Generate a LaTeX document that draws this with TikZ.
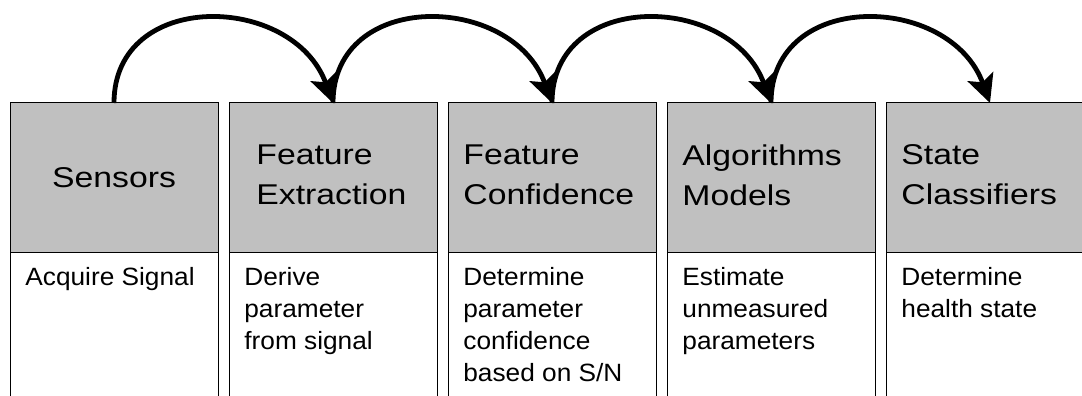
\documentclass[tikz,border=0pt]{standalone}
\usepackage{fontspec}
\setmainfont{Liberation Sans}[FakeStretch=1.05]
\newfontfamily\headfont{Liberation Sans}[FakeStretch=1.18]
\usetikzlibrary{positioning,arrows.meta}
\definecolor{boxgray}{RGB}{192,192,192}

\begin{document}
\begin{tikzpicture}[
  head/.style={draw=black,fill=boxgray,line width=0.5pt,minimum width=104pt,minimum height=75pt,inner sep=0pt,outer sep=0pt},
  body/.style={minimum width=104pt,minimum height=71.5pt,inner sep=0pt,outer sep=0pt},
  headtext/.style={inner sep=0pt,align=left,font=\headfont\fontsize{14.3}{20}\selectfont},
  bodytext/.style={inner sep=0pt,align=left,font=\fontsize{12.5}{16}\selectfont},
  flow/.style={line width=2.4pt,-{Stealth[length=14pt,width=13.5pt,inset=3pt]}}]
\useasboundingbox (0,0) rectangle (541pt,198pt);
% header boxes
\node[head,anchor=north west] (hd1) at (5pt,146.5pt) {};
\node[head,right=5.5pt of hd1] (hd2) {};
\node[head,right=5.5pt of hd2] (hd3) {};
\node[head,right=5.5pt of hd3] (hd4) {};
\node[head,right=5.5pt of hd4] (hd5) {};
% body columns, open at the bottom
\foreach \i in {1,...,5} {
  \node[body,below=0pt of hd\i] (bd\i) {};
  \draw[line width=0.5pt] (bd\i.north west) -- (bd\i.south west)
    (bd\i.north east) -- (bd\i.south east);
}
% header texts
\node[headtext] (t1) at (hd1) {Sensors};
\node[headtext,right=13.5pt of hd2.west,yshift=1.5pt] (t2) {Feature\\Extraction};
\node[headtext,right=7.5pt of hd3.west,yshift=1.5pt] (t3) {Feature\\Confidence};
\node[headtext,right=7.5pt of hd4.west,yshift=1.5pt] (t4) {Algorithms\\Models};
\node[headtext,right=7.5pt of hd5.west,yshift=1.5pt] (t5) {State\\Classifiers};
% body texts
\node[bodytext,below right=7pt and 7.5pt of bd1.north west] (b1) {Acquire Signal};
\node[bodytext,below right=7pt and 7.5pt of bd2.north west] (b2) {Derive\\parameter\\from signal};
\node[bodytext,below right=7pt and 7.5pt of bd3.north west] (b3) {Determine\\parameter\\confidence\\based on S/N};
\node[bodytext,below right=7pt and 7.5pt of bd4.north west] (b4) {Estimate\\unmeasured\\parameters};
\node[bodytext,below right=7pt and 7.5pt of bd5.north west] (b5) {Determine\\health state};
% arcs between stages
\foreach \a/\b in {1/2,2/3,3/4,4/5}
  \draw[flow] (hd\a.north) .. controls +(0,57pt) and +(-20pt,55pt) .. (hd\b.north);
\end{tikzpicture}
\end{document}
